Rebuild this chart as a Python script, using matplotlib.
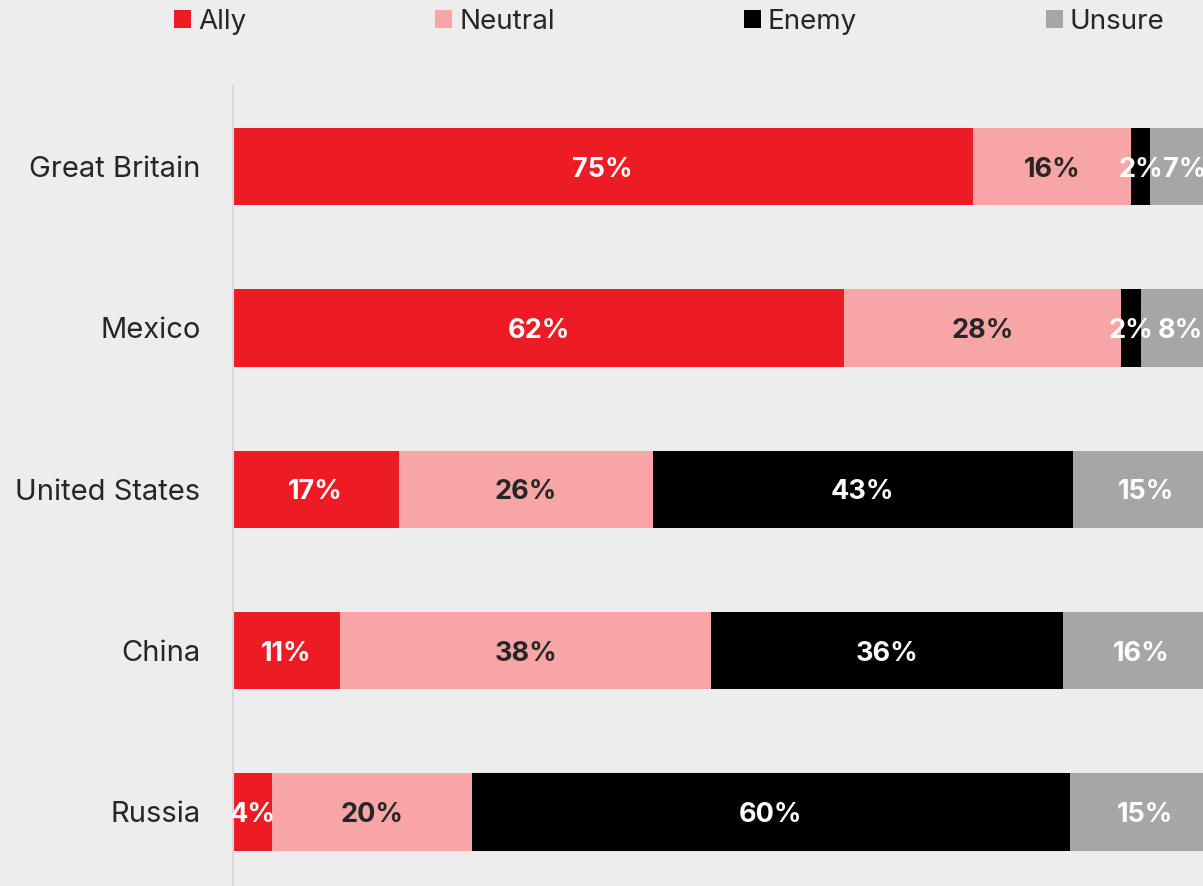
import numpy as np
from matplotlib import pyplot as plt
from matplotlib.patches import Patch

plt.rcParams["font.family"] = ["Inter", "DejaVu Sans"]

countries = ["Great Britain", "Mexico", "United States", "China", "Russia"]
series = ["Ally", "Neutral", "Enemy", "Unsure"]
ally = [75, 62, 17, 11, 4]
neutral = [16, 28, 26, 38, 20]
enemy = [2, 2, 43, 36, 60]
unsure = [7, 8, 15, 16, 15]

colors = ["#ED1C24", "#F8A5A6", "#000000", "#A6A6A6"]
label_colors = ["white", "#262626", "white", "white"]
bg = "#EDEDED"

W, H = 1203, 886
fig = plt.figure(figsize=(W / 100, H / 100), dpi=100, facecolor=bg)
# axes runs past the right edge of the figure, so the bars get clipped like the original
ax = fig.add_axes([232.5 / W, (886 - 892.6) / H, 987 / W, 806.6 / H])
ax.set_facecolor(bg)

# 100% stacked: every row is scaled to its own total
data = np.array([ally, neutral, enemy, unsure], dtype=float)
totals = data.sum(axis=0)

y = np.arange(len(countries))
left = np.zeros(len(countries))
for name, vals, col, lcol in zip(series, data, colors, label_colors):
    share = vals / totals
    bars = ax.barh(y, share, 0.48, left=left, color=col, label=name)
    texts = ax.bar_label(bars, labels=[f"{v:.0f}%" for v in vals], label_type="center",
                         color=lcol, fontsize=19.5, fontweight="bold")
    for t in texts:
        t.xyann = (0, -2.2)  # nudge down a bit, matches the original
    left += share

ax.set_xlim(0, 1)
ax.set_ylim(len(countries) - 0.5, -0.5)
ax.set_yticks(y, countries)
ax.tick_params(axis="y", length=0, pad=23, labelsize=21, labelcolor="#262626")
ax.set_xticks([])
for s in ["top", "right", "bottom"]:
    ax.spines[s].set_visible(False)
ax.spines["left"].set_color("#D9D9D9")
ax.spines["left"].set_linewidth(1.5)

handles = [Patch(facecolor=c, edgecolor="none") for c in colors]
fig.legend(handles, series, loc="center", bbox_to_anchor=(669.5 / W, 1 - 22 / H), ncol=4,
           frameon=False, fontsize=20, labelcolor="#262626",
           handlelength=0.61, handleheight=0.61, handletextpad=0.25, columnspacing=6.8,
           borderpad=0, borderaxespad=0)

fig.savefig("out.png", dpi=100, facecolor=bg)
